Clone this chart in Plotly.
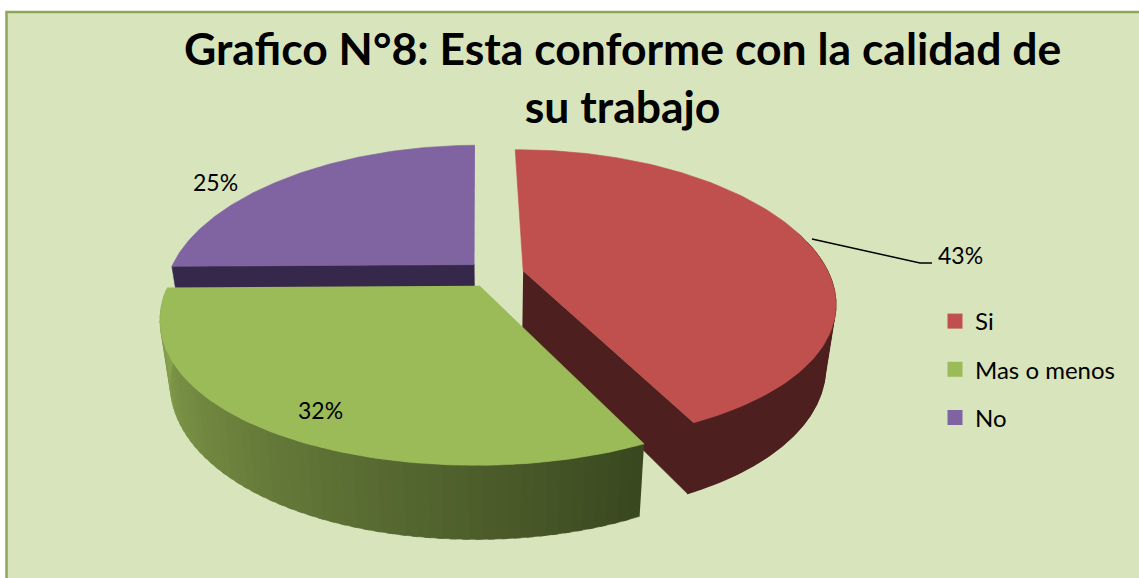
"""Grafico N°8: exploded 3D-look pie, built from the shares with filled scatter traces."""

import numpy as np
import plotly.graph_objects as go

labels = ["Si", "Mas o menos", "No"]
shares = [43, 32, 25]
top_colors = ["#c0504d", "#9bbb59", "#8064a2"]
wall_colors = ["#4d1f1e", "#9bbb59", "#35284a"]
label_spots = [(960, 255), (320, 410), (215, 182)]

# pixel-space projection of the unit disc
CX, CY = 495, 274
RX, RY = 306, 143.4
PERSP_X = 0.21
PERSP_Y = 0.1757
DEPTH = 60
NARROW = 0.03
EXPLODE = 0.095
ROTATION = np.radians(-0.7)


def project(u, v, drop=0.0):
    sx = 1 / (1 + PERSP_X * v)
    sy = 1 / (1 + PERSP_Y * v)
    return CX + RX * u * sx * (1 - NARROW * drop), CY - RY * v * sy + DEPTH * sy * drop


def blend(a, b, t):
    return "rgb(%d,%d,%d)" % tuple(a[i] + (b[i] - a[i]) * t for i in range(3))


def poly(x, y, color, name):
    return go.Scatter(
        x=x, y=y, mode="lines", fill="toself", fillcolor=color,
        line=dict(color=color, width=0.6), showlegend=False, hoverinfo="skip", name=name,
    )


def wall(u, v, color, name):
    xa, ya = project(u, v)
    xb, yb = project(u[::-1], v[::-1], 1)
    return poly(np.r_[xa, xb], np.r_[ya, yb], color, name)


fig = go.Figure()

edges = np.cumsum([0] + shares) / sum(shares) * 2 * np.pi + ROTATION
mids = (edges[:-1] + edges[1:]) / 2

# purple first, then red, green last: each one hides part of the previous walls
for i in [2, 0, 1]:
    ox, oy = EXPLODE * np.sin(mids[i]), EXPLODE * np.cos(mids[i])
    t = np.linspace(edges[i], edges[i + 1], 121)
    u = ox + np.sin(t)
    v = oy + np.cos(t)

    if i == 1:
        # green wall fades from dark at the right to light at the left, strips overlap
        # a little so no seams show between them
        for k in range(0, len(t) - 3, 2):
            color = blend((58, 72, 32), (139, 166, 80), (k / (len(t) - 4)) ** 0.95)
            fig.add_trace(wall(u[k:k + 4], v[k:k + 4], color, labels[i]))
    elif i == 0:
        # only the front part of the rim and the front cut face can be seen;
        # strips again, one band would fold over itself at the right edge
        front = np.where(v < 0.3)[0]
        for k in range(front[0], len(t) - 1, 3):
            fig.add_trace(wall(u[k:k + 7], v[k:k + 7], wall_colors[i], labels[i]))
        fig.add_trace(wall(np.array([ox, u[-1]]), np.array([oy, v[-1]]), wall_colors[i], labels[i]))
    else:
        # purple only shows its left cut face
        fig.add_trace(wall(np.array([ox, u[0]]), np.array([oy, v[0]]), wall_colors[i], labels[i]))

    xt, yt = project(np.r_[ox, u], np.r_[oy, v])
    fig.add_trace(poly(xt, yt, top_colors[i], labels[i]))

# legend swatches, one group each so the gap between rows can be set
for name, color in zip(labels, top_colors):
    fig.add_trace(go.Scatter(
        x=[None], y=[None], mode="markers", name=name, legendgroup=name,
        marker=dict(symbol="square", size=15, color=color),
    ))

# plate behind everything, runs off the right and bottom of the page
fig.add_shape(type="rect", x0=6.5, y0=12, x1=1160, y1=600, fillcolor="#d8e4bc",
              line=dict(color="#8fa65a", width=2.5), layer="below")
# leader line of the 43% label
fig.add_shape(type="path", path="M 812 239 L 920 263 L 932 263", line=dict(color="black", width=1.5))

for share, (x, y) in zip(shares, label_spots):
    fig.add_annotation(x=x, y=y, text=f"{share}%", showarrow=False, font=dict(size=23, color="black"))

fig.add_annotation(x=622, y=76, text="<b>Grafico N°8: Esta conforme con la calidad de<br>su trabajo</b>",
                   showarrow=False, font=dict(size=44.5, color="black"), align="center")

fig.update_layout(
    width=1139,
    height=578,
    margin=dict(l=0, r=0, t=0, b=0),
    paper_bgcolor="white",
    plot_bgcolor="white",
    font=dict(family="Lato", color="black"),
    xaxis=dict(range=[0, 1139], visible=False, fixedrange=True),
    yaxis=dict(range=[578, 0], visible=False, fixedrange=True),
    legend=dict(x=935 / 1139, y=1 - 299 / 578, xanchor="left", yanchor="top",
                bgcolor="rgba(0,0,0,0)", font=dict(size=24), tracegroupgap=14, itemwidth=30),
)

fig.write_html(
    "out.html",
    config={"displayModeBar": False},
    post_script="document.body.style.margin='0';document.body.style.overflow='hidden';",
)
